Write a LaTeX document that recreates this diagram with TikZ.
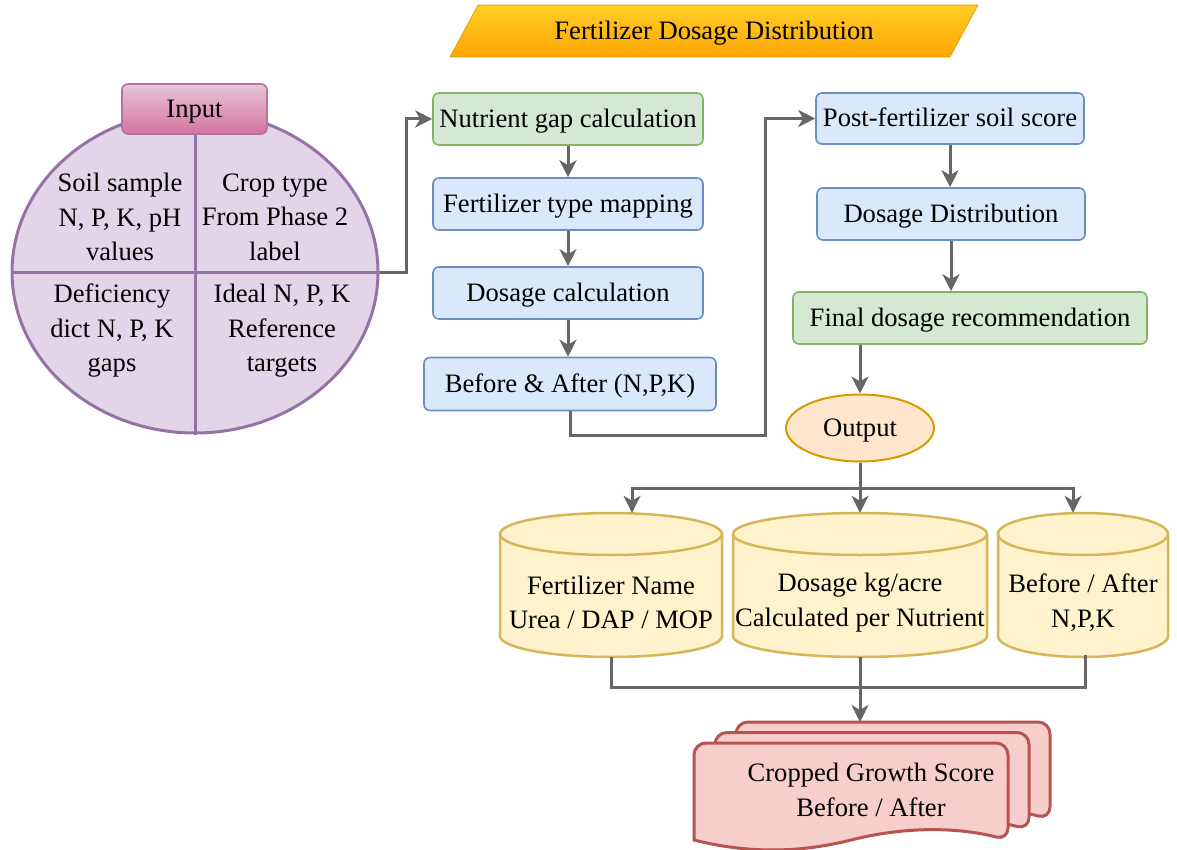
\documentclass[tikz,border=0pt]{standalone}
\usepackage{fontspec}
\setmainfont{Liberation Serif}
\usetikzlibrary{shapes.geometric,arrows.meta,calc}
\definecolor{bfill}{HTML}{DAE8FC}
\definecolor{bdraw}{HTML}{6C8EBF}
\definecolor{gfill}{HTML}{D5E8D4}
\definecolor{gdraw}{HTML}{82B366}
\definecolor{pfill}{HTML}{E1D5E7}
\definecolor{pdraw}{HTML}{9673A6}
\definecolor{pinktop}{HTML}{E8C6D8}
\definecolor{pinkbot}{HTML}{D5739D}
\definecolor{pinkdraw}{HTML}{B5739D}
\definecolor{otop}{HTML}{FFCD28}
\definecolor{obot}{HTML}{FFA500}
\definecolor{odraw}{HTML}{D79B00}
\definecolor{ofill}{HTML}{FFE6CC}
\definecolor{yfill}{HTML}{FFF2CC}
\definecolor{ydraw}{HTML}{D6B656}
\definecolor{rfill}{HTML}{F8CECC}
\definecolor{rdraw}{HTML}{B85450}
\definecolor{arrgray}{HTML}{666666}
\newcommand{\drawcyl}[4]{%
  \pgfmathsetmacro{\crx}{(#2-#1)/2}%
  \filldraw[cylsty] (#1,#3+21) -- (#1,#4-21) arc[start angle=180,end angle=0,x radius=\crx,y radius=21] -- (#2,#3+21) arc[start angle=0,end angle=-180,x radius=\crx,y radius=21] -- cycle;
  \draw[cylsty,fill=none] (#1,#3+21) arc[start angle=180,end angle=0,x radius=\crx,y radius=21];
}
\newcommand{\drawdoc}[2]{%
  \filldraw[docsty] (#1,#2+97) [rounded corners=12pt] -- (#1,#2) -- (#1+314,#2) -- (#1+314,#2+97) [sharp corners] .. controls (#1+261.7,#2+83.7) and (#1+209.3,#2+83.7) .. (#1+157,#2+97) .. controls (#1+104.7,#2+110.3) and (#1+52.3,#2+110.3) .. (#1,#2+97) -- cycle;
}
\begin{document}
\begin{tikzpicture}[x=1pt,y=-1pt,
  txt/.style={font=\fontsize{26.6}{34.5}\selectfont, align=center, inner sep=0pt, text=black},
  one/.style={text height=21pt, text depth=4pt},
  fbox/.style={txt, one, rounded corners=6pt, line width=1.6pt, minimum height=52pt},
  bluebox/.style={fbox, fill=bfill, draw=bdraw},
  greenbox/.style={fbox, fill=gfill, draw=gdraw},
  arr/.style={draw=arrgray, line width=3pt, -{Stealth[length=17pt,width=17pt,inset=5pt]}},
  conn/.style={draw=arrgray, line width=3pt},
  cylsty/.style={fill=yfill, draw=ydraw, line width=2.5pt},
  docsty/.style={fill=rfill, draw=rdraw, line width=3pt},
  holder/.style={inner sep=0pt, draw=none, fill=none},
]
\useasboundingbox (0,0) rectangle (1177,850);

% ---- title
\path[draw=odraw, line width=0.6pt, top color=otop, bottom color=obot]
  (450,57) -- (478,5) -- (978,5) -- (950,57) -- cycle;
\node[txt, one] (title) at (714,31) {Fertilizer Dosage Distribution};

% ---- input ellipse
\node[ellipse, draw=pdraw, fill=pfill, line width=3pt, minimum width=366pt, minimum height=322pt, inner sep=0pt] (inp) at (195,272) {};
\draw[draw=pdraw, line width=3pt] (inp.west) -- (inp.east);
\draw[draw=pdraw, line width=3pt] (inp.north) -- (inp.south);
\node[txt, one, rounded corners=6pt, draw=pinkdraw, line width=1.6pt, top color=pinktop, bottom color=pinkbot, minimum width=145pt, minimum height=50pt] (inlbl) at (194.5,109) {Input};
\node[txt] (q1) at (120,217) {Soil sample\\N, P, K, pH\\values};
\node[txt] (q2) at (275,217) {Crop type\\From Phase 2\\label};
\node[txt] (q3) at (112,331) {Deficiency\\dict N, P, K\\gaps};
\node[txt] (q4) at (282,331) {Ideal N, P, K\\Reference\\targets};

% ---- left column
\node[greenbox, minimum width=270pt] (ngap) at (568,119) {Nutrient gap calculation};
\node[bluebox, minimum width=270pt] (ftm) at (568,204) {Fertilizer type mapping};
\node[bluebox, minimum width=270pt] (dcalc) at (568,293) {Dosage calculation};
\node[bluebox, minimum width=292pt, minimum height=53pt] (ba) at (570,384) {Before \& After (N,P,K)};

% ---- right column
\node[bluebox, minimum width=268pt, minimum height=51pt] (post) at (950,118.5) {Post-fertilizer soil score};
\node[bluebox, minimum width=268pt] (dd) at (951,214) {Dosage Distribution};
\node[greenbox, minimum width=354pt] (final) at (970,318) {Final dosage recommendation};
\node[txt, one, ellipse, draw=odraw, fill=ofill, line width=2pt, minimum width=148pt, minimum height=67pt] (out) at (860,428) {Output};

% ---- cylinders
\drawcyl{500}{722}{513}{657}
\drawcyl{733}{987}{513}{657}
\drawcyl{998}{1168}{513}{657}
\node[holder, minimum width=222pt, minimum height=144pt] (cyl1) at (611,585) {};
\node[holder, minimum width=254pt, minimum height=144pt] (cyl2) at (860,585) {};
\node[holder, minimum width=170pt, minimum height=144pt] (cyl3) at (1083,585) {};
\node[txt] (c1t) at (611,602.5) {Fertilizer Name\\Urea / DAP / MOP};
\node[txt] (c2t) at (860,602.5) {Dosage kg/acre\\Calculated per Nutrient};
\node[txt] (c3t) at (1083,602.5) {Before / After\\N,P,K};

% ---- documents
\drawdoc{736}{722}
\drawdoc{715}{732.5}
\drawdoc{694}{743}
\node[holder, minimum width=354pt, minimum height=128pt, anchor=north west] (docs) at (694,722) {};
\node[txt] (dtext) at (871,790) {Cropped Growth Score\\Before / After};

% ---- connectors
\coordinate (jx) at (765,435);
\coordinate (sp) at (860,488);
\coordinate (bj) at (860,687);
\draw[arr] (inp.east) -- ++(27,0) |- (ngap.west);
\draw[arr] (ngap.south) -- (ftm.north);
\draw[arr] (ftm.south) -- (dcalc.north);
\draw[arr] (dcalc.south) -- (dcalc.south |- ba.north);
\draw[arr] (ba.south) |- (jx) |- (post.west);
\draw[arr] (post.south) -- (post.south |- dd.north);
\draw[arr] (dd.south) -- (dd.south |- final.north);
\draw[arr] (out.north |- final.south) -- (out.north);
\draw[conn] (out.south) -- (sp);
\draw[arr] (sp) -| ($(cyl1.north)+(21,0)$);
\draw[arr] (sp) -- (cyl2.north);
\draw[arr] (sp) -| ($(cyl3.north)+(-10,0)$);
\draw[conn] (cyl1.south) |- (bj) -| ($(cyl3.south)+(2,-2)$);
\draw[arr] (cyl2.south) -- (cyl2.south |- docs.north);
\end{tikzpicture}
\end{document}
